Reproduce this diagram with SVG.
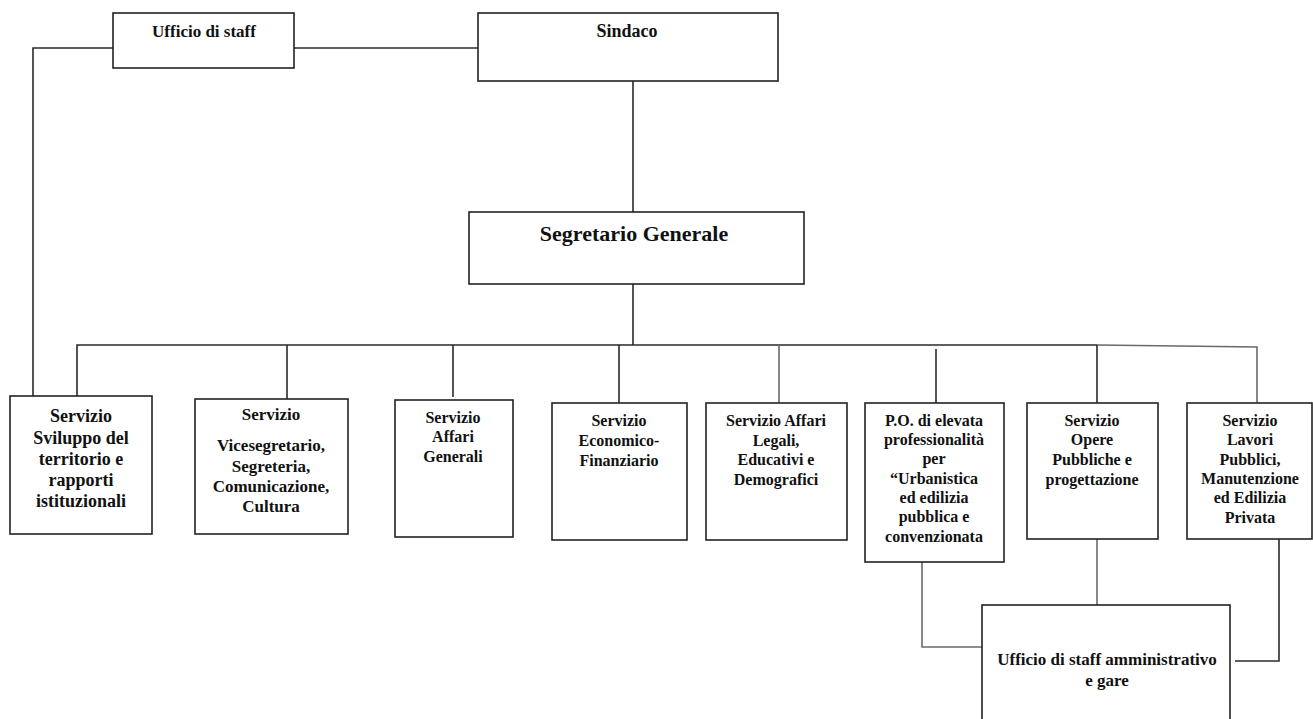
<svg xmlns="http://www.w3.org/2000/svg" width="1313" height="719" viewBox="0 0 1313 719">
<style>
.box{fill:#fff;stroke:#222;stroke-width:1.6}
.ln{fill:none;stroke:#2a2a2a;stroke-width:1.6}
.lg{fill:none;stroke:#6a6a6a;stroke-width:1.6}
text{font-family:"Liberation Serif","Times New Roman",serif;font-weight:bold;fill:#111;text-anchor:middle}
.f16{font-size:16px}
.f17{font-size:17px}
.f18{font-size:18px}
</style>
<rect width="1313" height="719" fill="#fff"/>
<g id="connectors">
<path class="ln" d="M113,48 H33 V396"/>
<path class="ln" d="M294,48 H478"/>
<path class="ln" d="M633,81 V212"/>
<path class="ln" d="M633,284 V345"/>
<path class="ln" d="M77,396 V345 H1097"/>
<path class="lg" d="M1097,345 L1257,347 V403"/>
<path class="ln" d="M287,345 V399"/>
<path class="ln" d="M453,345 V397"/>
<path class="ln" d="M619,345 V403"/>
<path class="lg" d="M779,345 V403"/>
<path class="ln" d="M936,349 V403"/>
<path class="ln" d="M1097,345 V403"/>
<path class="lg" d="M922,562 V647 H982"/>
<path class="lg" d="M1097,539 V605"/>
<path class="ln" d="M1279,539 V661 H1235"/>
</g>
<g id="ufficio-staff">
<rect class="box" x="113" y="13" width="181" height="55"/>
<text class="f17" x="204" y="37">Ufficio di staff</text>
</g>
<g id="sindaco">
<rect class="box" x="478" y="13" width="300" height="68"/>
<text class="f18" x="627" y="37">Sindaco</text>
</g>
<g id="segretario">
<rect class="box" x="469" y="212" width="335" height="72"/>
<text x="634" y="241" style="font-size:22px">Segretario Generale</text>
</g>
<g id="sviluppo">
<rect class="box" x="10" y="396" width="142" height="138"/>
<text class="f18" x="81" y="422">Servizio</text>
<text class="f18" x="81" y="443.5">Sviluppo del</text>
<text class="f18" x="81" y="465">territorio e</text>
<text class="f18" x="81" y="486">rapporti</text>
<text class="f18" x="81" y="507">istituzionali</text>
</g>
<g id="vicesegretario">
<rect class="box" x="195" y="399" width="153" height="135"/>
<text class="f17" x="271" y="420">Servizio</text>
<text class="f17" x="271" y="451">Vicesegretario,</text>
<text class="f17" x="271" y="472">Segreteria,</text>
<text class="f17" x="271" y="492">Comunicazione,</text>
<text class="f17" x="271" y="512">Cultura</text>
</g>
<g id="affari-generali">
<rect class="box" x="395" y="400" width="118" height="137"/>
<text class="f16" x="453" y="423">Servizio</text>
<text class="f16" x="453" y="442">Affari</text>
<text class="f16" x="453" y="462">Generali</text>
</g>
<g id="economico">
<rect class="box" x="552" y="403" width="135" height="137"/>
<text class="f16" x="619" y="426">Servizio</text>
<text class="f16" x="619" y="446">Economico-</text>
<text class="f16" x="619" y="466">Finanziario</text>
</g>
<g id="legali">
<rect class="box" x="706" y="403" width="141" height="137"/>
<text class="f16" x="776" y="426">Servizio Affari</text>
<text class="f16" x="776" y="446">Legali,</text>
<text class="f16" x="776" y="465">Educativi e</text>
<text class="f16" x="776" y="485">Demografici</text>
</g>
<g id="po">
<rect class="box" x="865" y="403" width="139" height="159"/>
<text class="f16" x="934" y="426">P.O. di elevata</text>
<text class="f16" x="934" y="445">professionalità</text>
<text class="f16" x="934" y="464">per</text>
<text class="f16" x="934" y="484">“Urbanistica</text>
<text class="f16" x="934" y="503">ed edilizia</text>
<text class="f16" x="934" y="522">pubblica e</text>
<text class="f16" x="934" y="542">convenzionata</text>
</g>
<g id="opere">
<rect class="box" x="1027" y="403" width="131" height="136"/>
<text class="f16" x="1092" y="426">Servizio</text>
<text class="f16" x="1092" y="445">Opere</text>
<text class="f16" x="1092" y="465">Pubbliche e</text>
<text class="f16" x="1092" y="485">progettazione</text>
</g>
<g id="lavori">
<rect class="box" x="1187" y="403" width="125" height="136"/>
<text class="f16" x="1250" y="426">Servizio</text>
<text class="f16" x="1250" y="445">Lavori</text>
<text class="f16" x="1250" y="465">Pubblici,</text>
<text class="f16" x="1250" y="484">Manutenzione</text>
<text class="f16" x="1250" y="503">ed Edilizia</text>
<text class="f16" x="1250" y="523">Privata</text>
</g>
<g id="staff-amministrativo">
<rect class="box" x="982" y="605" width="248" height="130"/>
<text class="f17" x="1107" y="665">Ufficio di staff amministrativo</text>
<text class="f17" x="1107" y="686">e gare</text>
</g>
</svg>
